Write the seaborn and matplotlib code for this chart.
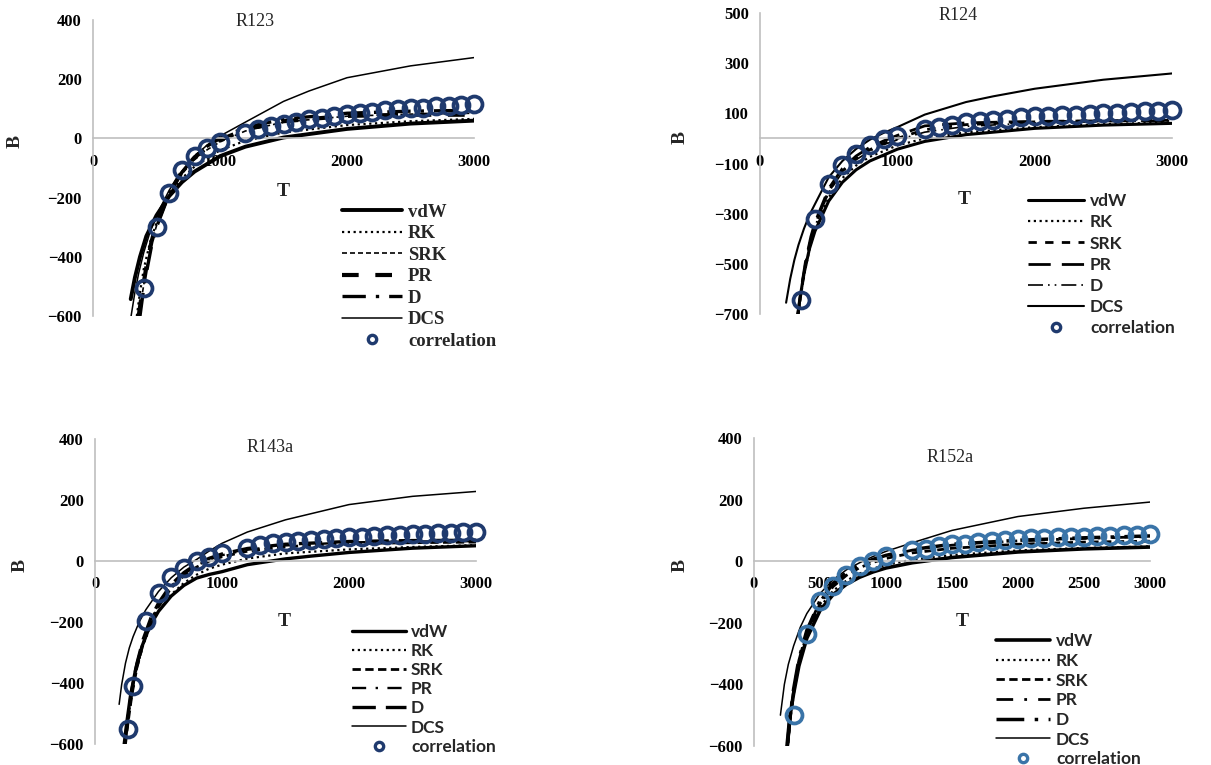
import matplotlib
matplotlib.use("Agg")
import matplotlib.pyplot as plt
from matplotlib.lines import Line2D
import seaborn as sns

# ---------------- data ----------------
# R123
R123_T_vdW = [297, 330, 370, 420, 500, 600, 700, 800, 1000, 1200, 1500, 2000, 2500, 3000]
R123_B_vdW = [-543, -470, -400, -330, -260, -195, -148, -112, -60, -28, 3, 32, 50, 60]
R123_T_RK = [345, 370, 400, 450, 500, 600, 700, 800, 1000, 1200, 1500, 2000, 2500, 3000]
R123_B_RK = [-600, -520, -440, -350, -285, -195, -135, -95, -40, -8, 20, 45, 58, 66]
R123_T_SRK = [365, 390, 420, 460, 500, 600, 700, 800, 900, 1000, 1200, 1500, 2000, 2500, 3000]
R123_B_SRK = [-600, -520, -440, -355, -295, -190, -120, -72, -38, -12, 25, 55, 75, 82, 85]
R123_T_PR = [360, 385, 420, 460, 500, 600, 700, 800, 900, 1000, 1200, 1500, 2000, 2500, 3000]
R123_B_PR = [-600, -525, -435, -350, -290, -183, -113, -64, -30, -5, 30, 58, 76, 80, 80]
R123_T_D = [370, 395, 420, 460, 500, 600, 700, 800, 900, 1000, 1200, 1500, 2000, 2500, 3000]
R123_B_D = [-600, -520, -455, -365, -300, -188, -115, -62, -26, 0, 37, 65, 85, 92, 95]
R123_T_DCS = [300, 330, 360, 400, 450, 500, 600, 700, 800, 900, 1000, 1200, 1500, 1700, 2000, 2500, 3000]
R123_B_DCS = [-600, -520, -455, -385, -315, -260, -175, -110, -60, -22, 8, 55, 125, 160, 205, 245, 273]
R123_T_corr = [400, 500, 600, 700, 800, 900, 1000, 1200, 1300, 1400, 1500, 1600, 1700, 1800, 1900,
               2000, 2100, 2200, 2300, 2400, 2500, 2600, 2700, 2800, 2900, 3000]
R123_B_corr = [-507, -299, -186, -106, -60, -32, -12, 19, 33, 42, 50, 57, 65, 70, 77,
               82, 87, 90, 95, 101, 104, 104, 109, 110, 114, 116]

# R124
R124_T_vdW = [270, 290, 320, 360, 400, 500, 600, 700, 800, 1000, 1200, 1500, 2000, 2500, 3000]
R124_B_vdW = [-720, -640, -540, -440, -370, -250, -175, -125, -90, -43, -12, 15, 40, 53, 60]
R124_T_RK = [275, 300, 330, 370, 400, 500, 600, 700, 800, 1000, 1200, 1500, 2000, 2500, 3000]
R124_B_RK = [-720, -620, -520, -420, -365, -235, -158, -108, -73, -28, 0, 24, 45, 57, 64]
R124_T_SRK = [275, 300, 330, 370, 400, 500, 600, 700, 800, 900, 1000, 1200, 1500, 2000, 2500, 3000]
R124_B_SRK = [-710, -610, -505, -400, -345, -210, -130, -80, -45, -20, 0, 35, 55, 66, 70, 72]
R124_T_PR = [275, 300, 330, 370, 400, 500, 600, 700, 800, 900, 1000, 1200, 1500, 2000, 2500, 3000]
R124_B_PR = [-705, -600, -495, -392, -335, -200, -120, -70, -35, -10, 12, 50, 62, 68, 70, 70]
R124_T_D = [280, 300, 330, 370, 400, 500, 600, 700, 800, 900, 1000, 1200, 1500, 2000, 2500, 3000]
R124_B_D = [-700, -615, -510, -405, -350, -215, -135, -85, -50, -25, -6, 25, 48, 62, 68, 70]
R124_T_DCS = [190, 220, 250, 280, 320, 360, 400, 500, 600, 700, 800, 900, 1000, 1200, 1500, 1700, 2000, 2500, 3000]
R124_B_DCS = [-655, -560, -485, -425, -360, -305, -262, -155, -90, -42, -5, 22, 45, 95, 145, 168, 198, 234, 259]
R124_T_corr = [300, 400, 500, 600, 700, 800, 900, 1000, 1200, 1300, 1400, 1500, 1600, 1700, 1800, 1900,
               2000, 2100, 2200, 2300, 2400, 2500, 2600, 2700, 2800, 2900, 3000]
R124_B_corr = [-645, -321, -181, -106, -63, -27, -4, 10, 37, 46, 54, 64, 71, 75, 78, 84,
               89, 91, 94, 95, 98, 101, 102, 105, 108, 108, 112]

# R143a
R143a_T_vdW = [230, 250, 280, 320, 370, 430, 500, 600, 700, 800, 900, 1000, 1200, 1500, 1700, 2000, 2500, 3000]
R143a_B_vdW = [-600, -530, -440, -355, -280, -215, -165, -115, -80, -56, -44, -35, -12, 7, 16, 28, 42, 50]
R143a_T_RK = [235, 260, 290, 330, 380, 440, 500, 600, 700, 800, 900, 1000, 1200, 1500, 2000, 2500, 3000]
R143a_B_RK = [-600, -520, -435, -350, -275, -210, -165, -110, -72, -45, -25, -12, 8, 25, 38, 46, 52]
R143a_T_SRK = [240, 260, 290, 330, 380, 440, 500, 600, 700, 800, 900, 1000, 1200, 1500, 2000, 2500, 3000]
R143a_B_SRK = [-600, -530, -440, -350, -270, -200, -150, -88, -48, -20, 0, 14, 32, 47, 57, 60, 62]
R143a_T_PR = [240, 260, 290, 330, 380, 440, 500, 600, 700, 800, 900, 1000, 1200, 1500, 2000, 2500, 3000]
R143a_B_PR = [-590, -520, -430, -342, -262, -193, -144, -82, -43, -15, 5, 19, 37, 51, 61, 64, 65]
R143a_T_D = [240, 260, 290, 330, 380, 440, 500, 600, 700, 800, 900, 1000, 1200, 1500, 2000, 2500, 3000]
R143a_B_D = [-580, -512, -424, -336, -256, -187, -138, -77, -38, -10, 9, 23, 41, 55, 64, 67, 68]
R143a_T_DCS = [190, 210, 240, 270, 300, 350, 400, 500, 600, 700, 800, 900, 1000, 1200, 1500, 1700, 2000, 2500, 3000]
R143a_B_DCS = [-470, -405, -335, -285, -248, -198, -160, -100, -55, -20, 5, 33, 58, 95, 135, 155, 185, 212, 228]
R143a_T_corr = [260, 300, 400, 500, 600, 700, 800, 900, 1000, 1200, 1300, 1400, 1500, 1600, 1700, 1800, 1900,
                2000, 2100, 2200, 2300, 2400, 2500, 2600, 2700, 2800, 2900, 3000]
R143a_B_corr = [-550, -411, -197, -106, -53, -22, 0, 14, 26, 44, 52, 58, 63, 66, 69, 72, 76,
                78, 78, 82, 86, 86, 89, 89, 91, 91, 94, 94]

# R152a
R152a_T_vdW = [250, 270, 300, 340, 400, 500, 600, 700, 800, 900, 1000, 1200, 1500, 2000, 2500, 3000]
R152a_B_vdW = [-600, -510, -430, -340, -250, -160, -108, -75, -52, -35, -22, -5, 12, 30, 40, 46]
R152a_T_RK = [250, 270, 300, 340, 400, 500, 600, 700, 800, 900, 1000, 1200, 1500, 2000, 2500, 3000]
R152a_B_RK = [-600, -505, -420, -330, -238, -148, -96, -63, -40, -24, -12, 5, 20, 35, 43, 48]
R152a_T_SRK = [255, 275, 300, 340, 400, 500, 600, 700, 800, 900, 1000, 1200, 1500, 2000, 2500, 3000]
R152a_B_SRK = [-600, -510, -430, -330, -235, -138, -82, -46, -21, -4, 9, 27, 42, 55, 62, 65]
R152a_T_PR = [255, 275, 300, 340, 400, 500, 600, 700, 800, 900, 1000, 1200, 1500, 2000, 2500, 3000]
R152a_B_PR = [-600, -505, -420, -322, -228, -130, -74, -38, -14, 4, 17, 36, 52, 66, 74, 80]
R152a_T_D = [255, 275, 300, 340, 400, 500, 600, 700, 800, 900, 1000, 1200, 1500, 2000, 2500, 3000]
R152a_B_D = [-590, -500, -415, -318, -225, -128, -72, -36, -12, 6, 19, 38, 55, 68, 76, 82]
R152a_T_DCS = [200, 230, 260, 300, 350, 400, 500, 600, 700, 800, 900, 1000, 1200, 1500, 2000, 2500, 3000]
R152a_B_DCS = [-500, -400, -335, -275, -215, -170, -105, -60, -28, -5, 15, 32, 60, 100, 145, 172, 192]
R152a_T_corr = [300, 400, 500, 600, 700, 800, 900, 1000, 1200, 1300, 1400, 1500, 1600, 1700, 1800, 1900,
                2000, 2100, 2200, 2300, 2400, 2500, 2600, 2700, 2800, 2900, 3000]
R152a_B_corr = [-500, -236, -130, -79, -44, -16, 0, 16, 35, 41, 49, 55, 57, 63, 65, 68,
                71, 74, 75, 77, 80, 80, 82, 82, 86, 86, 88]

series_names = ["vdW", "RK", "SRK", "PR", "D", "DCS"]
panel_titles = ["R123", "R124", "R143a", "R152a"]

# ---------------- styling ----------------
sns.set_theme(style="white")
plt.rcParams["font.family"] = ["Liberation Serif", "DejaVu Serif"]

W, H = 1211, 765
fig = plt.figure(figsize=(W / 100, H / 100), dpi=100)

SERIF = ["Liberation Serif", "DejaVu Serif"]
SANS = ["Lato", "Open Sans", "DejaVu Sans"]

panels = [
    dict(title="R123", data=[(R123_T_vdW, R123_B_vdW), (R123_T_RK, R123_B_RK), (R123_T_SRK, R123_B_SRK),
                             (R123_T_PR, R123_B_PR), (R123_T_D, R123_B_D), (R123_T_DCS, R123_B_DCS)],
         corr=(R123_T_corr, R123_B_corr), ccol="#1F3A6E",
         rect=(93, 474, 20, 316), ylim=(-600, 400), ystep=200, xstep=1000,
         styles=[dict(lw=2.8, ls="-"), dict(lw=1.6, ls=(0, (1, 1.6))), dict(lw=1.2, ls=(0, (3, 1.8))),
                 dict(lw=3.0, ls=(0, (4, 4))), dict(lw=2.4, ls=(0, (7, 3, 1, 3))), dict(lw=1.1, ls="-")],
         title_xy=(255, 22), B_xy=(15, 142), T_xy=(283, 191),
         leg=dict(x=342, y=212, hl=60, fam=SERIF, fs=13.5, row=21.3, pad=6)),
    dict(title="R124", data=[(R124_T_vdW, R124_B_vdW), (R124_T_RK, R124_B_RK), (R124_T_SRK, R124_B_SRK),
                             (R124_T_PR, R124_B_PR), (R124_T_D, R124_B_D), (R124_T_DCS, R124_B_DCS)],
         corr=(R124_T_corr, R124_B_corr), ccol="#1F3A6E",
         rect=(760, 1172, 13, 314), ylim=(-700, 500), ystep=200, xstep=1000,
         styles=[dict(lw=2.2, ls="-"), dict(lw=1.6, ls=(0, (1, 1.6))), dict(lw=2.0, ls=(0, (3, 3))),
                 dict(lw=2.0, ls=(0, (8, 4))), dict(lw=1.2, ls=(0, (9, 3, 1, 3, 1, 3))), dict(lw=1.5, ls="-")],
         title_xy=(958, 15), B_xy=(680, 137), T_xy=(964, 200),
         leg=dict(x=1028, y=201, hl=56, fam=SANS, fs=12.5, row=20.8, pad=6)),
    dict(title="R143a", data=[(R143a_T_vdW, R143a_B_vdW), (R143a_T_RK, R143a_B_RK), (R143a_T_SRK, R143a_B_SRK),
                              (R143a_T_PR, R143a_B_PR), (R143a_T_D, R143a_B_D), (R143a_T_DCS, R143a_B_DCS)],
         corr=(R143a_T_corr, R143a_B_corr), ccol="#1F3A6E",
         rect=(95, 476, 439, 744), ylim=(-600, 400), ystep=200, xstep=1000,
         styles=[dict(lw=2.4, ls="-"), dict(lw=1.6, ls=(0, (1, 1.6))), dict(lw=2.0, ls=(0, (3, 1.6))),
                 dict(lw=1.7, ls=(0, (6, 4, 1, 4))), dict(lw=2.4, ls=(0, (7, 3))), dict(lw=1.1, ls="-")],
         title_xy=(270, 447), B_xy=(20, 565), T_xy=(284, 622),
         leg=dict(x=352, y=632, hl=54, fam=SANS, fs=12.5, row=18.7, pad=5)),
    dict(title="R152a", data=[(R152a_T_vdW, R152a_B_vdW), (R152a_T_RK, R152a_B_RK), (R152a_T_SRK, R152a_B_SRK),
                              (R152a_T_PR, R152a_B_PR), (R152a_T_D, R152a_B_D), (R152a_T_DCS, R152a_B_DCS)],
         corr=(R152a_T_corr, R152a_B_corr), ccol="#3A74A8",
         rect=(754, 1150, 438, 746), ylim=(-600, 400), ystep=200, xstep=500,
         styles=[dict(lw=2.6, ls="-"), dict(lw=1.6, ls=(0, (1, 1.6))), dict(lw=2.0, ls=(0, (3, 1.6))),
                 dict(lw=2.0, ls=(0, (6, 4, 1, 4))), dict(lw=2.5, ls=(0, (8, 3, 1, 3))), dict(lw=1.1, ls="-")],
         title_xy=(950, 457), B_xy=(680, 566), T_xy=(962, 622),
         leg=dict(x=996, y=641, hl=54, fam=SANS, fs=12.5, row=19.3, pad=6)),
]

GRAY = "#BFBFBF"

for p in panels:
    x0, x1, yt, yb = p["rect"]
    ax = fig.add_axes([x0 / W, 1 - yb / H, (x1 - x0) / W, (yb - yt) / H])
    ax.set_facecolor("none")
    handles = []
    for (T, B), st, name in zip(p["data"], p["styles"], series_names):
        sns.lineplot(x=T, y=B, ax=ax, color="black", linewidth=st["lw"], linestyle=st["ls"],
                     sort=False, estimator=None, legend=False)
        handles.append(Line2D([], [], color="black", linewidth=st["lw"], linestyle=st["ls"]))
    Tc, Bc = p["corr"]
    sns.lineplot(x=Tc, y=Bc, ax=ax, color=p["ccol"], linestyle="none", marker="o", markersize=11.5,
                 markerfacecolor="none", markeredgecolor=p["ccol"], markeredgewidth=2.7,
                 sort=False, estimator=None, legend=False, clip_on=False, zorder=4)
    handles.append(Line2D([], [], linestyle="none", marker="o", markersize=6, markerfacecolor="none",
                          markeredgecolor=p["ccol"], markeredgewidth=2.4))

    ax.set_xlim(0, 3000)
    ax.set_ylim(*p["ylim"])
    ax.set_xticks(list(range(0, 3001, p["xstep"])))
    ax.set_yticks(list(range(p["ylim"][0], p["ylim"][1] + 1, p["ystep"])))
    for s in ["top", "right"]:
        ax.spines[s].set_visible(False)
    ax.spines["left"].set_color(GRAY)
    ax.spines["left"].set_linewidth(1.2)
    ax.spines["bottom"].set_position(("data", 0))
    ax.spines["bottom"].set_color(GRAY)
    ax.spines["bottom"].set_linewidth(1.2)
    ax.tick_params(axis="both", length=0)
    ax.tick_params(axis="x", pad=11)
    ax.tick_params(axis="y", pad=8)
    for lab in ax.get_xticklabels() + ax.get_yticklabels():
        lab.set_fontfamily(SERIF)
        lab.set_fontweight("bold")
        lab.set_fontsize(12)
        lab.set_color("black")
    ax.set_xlabel("")
    ax.set_ylabel("")

    tx, ty = p["title_xy"]
    fig.text(tx / W, 1 - ty / H, p["title"], ha="center", va="center", fontsize=13, family=SERIF)
    bx, by = p["B_xy"]
    fig.text(bx / W, 1 - by / H, "B", ha="center", va="center", rotation=90, fontsize=14,
             fontweight="bold", family=SERIF)
    Tx, Ty = p["T_xy"]
    fig.text(Tx / W, 1 - Ty / H, "T", ha="center", va="center", fontsize=14, fontweight="bold", family=SERIF)

    lg = p["leg"]
    fs_px = lg["fs"] * 100 / 72
    text_h = 0.9 * fs_px
    leg = fig.legend(handles, series_names + ["correlation"], loc="upper left",
                     bbox_to_anchor=(lg["x"] / W, 1 - (lg["y"] - text_h / 2) / H), frameon=False,
                     borderpad=0, borderaxespad=0,
                     handlelength=lg["hl"] / fs_px, handletextpad=lg["pad"] / fs_px,
                     labelspacing=max(lg["row"] - text_h, 1) / fs_px,
                     prop=dict(family=lg["fam"], weight="bold", size=lg["fs"]))

fig.savefig("out.png", dpi=100)
